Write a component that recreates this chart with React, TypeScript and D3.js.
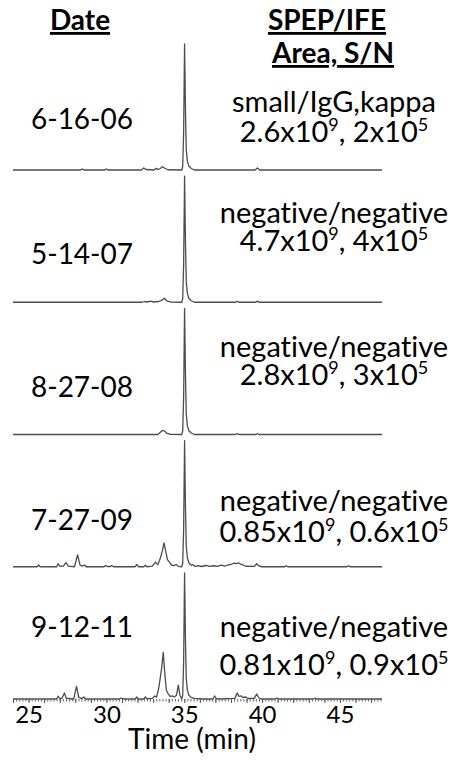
import React, { useEffect, useRef } from 'react';
import * as d3 from 'd3';

const W = 453;
const H = 773;
const FONT = "Lato, 'Open Sans', sans-serif";

// sample dates and the SPEP/IFE result + area, S/N for each run
const dates = ['6-16-06', '5-14-07', '8-27-08', '7-27-09', '9-12-11'];
const speIfe = ['small/IgG,kappa', 'negative/negative', 'negative/negative', 'negative/negative', 'negative/negative'];
const areaValues = ['2.6', '4.7', '2.8', '0.85', '0.81'];
const areaExp = '9';
const snValues = ['2', '4', '3', '0.6', '0.9'];
const snExp = '5';

const timeDomain = [24, 47.7];
const tickLabels = [25, 30, 35, 40, 45];

// main peak (time min, % of max)
const mainPeak: [number, number][] = [
  [34.84, 0], [34.9, 3], [34.96, 30], [35.02, 100], [35.08, 45], [35.13, 16],
  [35.2, 7], [35.3, 3], [35.45, 1.2],
];

const trace1: [number, number][] = [
  [24, 0], [28.35, 0], [28.45, 0.8], [28.55, 0], [29.9, 0], [30.0, 0.8], [30.1, 0],
  [32.25, 0], [32.4, 1.6], [32.55, 0.4], [33.05, 0], [33.2, 1.3], [33.3, 0.3],
  [33.45, 1.2], [33.6, 2.6], [33.75, 1.4], [33.95, 0.2], [34.82, 0],
  ...mainPeak,
  [35.65, 0], [39.55, 0], [39.7, 1.6], [39.85, 0], [47.7, 0],
];

const trace2: [number, number][] = [
  [24, 0], [32.3, 0], [32.45, 0.6], [32.6, 0.2], [32.85, 0.8], [33.05, 0.2],
  [33.35, 0.6], [33.55, 1.4], [33.72, 3.2], [33.88, 1.0], [34.1, 0.2], [34.82, 0],
  ...mainPeak,
  [35.65, 0], [38.3, 0], [38.4, 0.8], [38.5, 0], [39.6, 0], [39.7, 0.9], [39.8, 0], [47.7, 0],
];

const trace3: [number, number][] = [
  [24, 0], [33.3, 0], [33.45, 1.6], [33.6, 3.2], [33.75, 2.6], [33.9, 0.8],
  [34.1, 0.2], [34.82, 0],
  ...mainPeak,
  [35.65, 0], [38.3, 0], [38.4, 0.8], [38.5, 0], [39.6, 0], [39.7, 0.8], [39.8, 0], [47.7, 0],
];

const trace4: [number, number][] = [
  [24, 0], [25.55, 0], [25.65, 1.4], [25.75, 0], [26.8, 0], [26.9, 2.4], [27.0, 0.5],
  [27.25, 0.6], [27.4, 3.2], [27.55, 0.5], [27.95, 0], [28.15, 9.5], [28.3, 1.5],
  [28.45, 0.4], [28.6, 1.4], [28.7, 0], [29.85, 0], [29.95, 1.0], [30.05, 0.2],
  [30.25, 0.2], [30.35, 1.0], [30.45, 0], [31.85, 0], [31.95, 1.8], [32.05, 0],
  [32.4, 0], [32.5, 1.2], [32.6, 0], [32.95, 0.5], [33.15, 3.7], [33.3, 1.5],
  [33.45, 6.3], [33.58, 12], [33.7, 19], [33.8, 12.7], [33.92, 5.6], [34.07, 3.2],
  [34.2, 1.2], [34.35, 1.0], [34.5, 1.6], [34.62, 0.3], [34.82, 0],
  ...mainPeak,
  [35.55, 1.6], [35.7, 0.3], [35.9, 0.8], [36.1, 0.2], [36.4, 1.0], [36.6, 0.3],
  [36.9, 0.8], [37.1, 0.3], [37.4, 1.2], [37.6, 0.5], [37.8, 1.4], [38.0, 1.8],
  [38.2, 2.8], [38.35, 2.4], [38.5, 3.0], [38.65, 1.8], [38.8, 1.2], [38.95, 0.4],
  [39.5, 0.3], [39.65, 2.4], [39.8, 0.6], [40.0, 0], [41.45, 0], [41.55, 0.8],
  [41.65, 0], [45.45, 0], [45.55, 0.8], [45.65, 0], [47.7, 0],
];

const trace5: [number, number][] = [
  [24, 0], [26.8, 0], [26.9, 2.2], [27.0, 0.4], [27.15, 0.6], [27.3, 4.8], [27.42, 0.6],
  [27.9, 0], [28.08, 10], [28.22, 1.5], [28.4, 0.3], [28.55, 1.6], [28.65, 0],
  [30.85, 0], [30.95, 0.8], [31.05, 0], [31.85, 0], [31.95, 1.6], [32.05, 0],
  [32.4, 0], [32.5, 1.6], [32.6, 0.2], [32.95, 0.5], [33.1, 2.4], [33.22, 1.5],
  [33.35, 8], [33.45, 16], [33.55, 25], [33.65, 37], [33.75, 20], [33.85, 7],
  [33.97, 4], [34.1, 2], [34.25, 2.4], [34.35, 1.6], [34.5, 3], [34.62, 11],
  [34.72, 3], [34.8, 1.0],
  ...mainPeak,
  [35.65, 0.5], [36.2, 0], [36.85, 0], [36.95, 2.4], [37.05, 0.4], [37.3, 0],
  [38.25, 0.5], [38.4, 4.8], [38.52, 2.0], [38.65, 2.4], [38.75, 1.2], [38.95, 1.6],
  [39.1, 0.4], [39.5, 0.5], [39.65, 4], [39.78, 1.0], [39.95, 0], [40.85, 0],
  [40.95, 0.8], [41.05, 0], [43.3, 0], [43.4, 0.6], [43.5, 0], [47.7, 0],
];

const traces = [trace1, trace2, trace3, trace4, trace5];

// label placement relative to each panel baseline
const dateOffset = [-41, -38, -38, -37, -62];
const textOffset = [[-58, -28], [-79, -51], [-78, -50], [-56, -25], [-62, -24]];

export default function App() {
  const axisRef = useRef<SVGGElement>(null);

  const x = d3.scaleLinear().domain(timeDomain).range([13, 382]);
  const panelY = d3.scalePoint<string>().domain(dates).range([170, 699]);
  const y = d3.scaleLinear().domain([0, 100]).range([0, -126]);
  const line = d3
    .line<[number, number]>()
    .x(d => x(d[0]))
    .y(d => y(d[1]));

  useEffect(() => {
    const g = d3.select(axisRef.current);
    g.selectAll('*').remove();

    const minor = d3.range(121, 239).map(i => i / 5);
    g.append('g')
      .call(d3.axisBottom(x).tickValues(minor).tickSize(2.5).tickFormat(() => ''))
      .call(s => s.select('.domain').remove())
      .call(s => s.selectAll('.tick line').attr('stroke', '#666'));

    g.append('g')
      .call(d3.axisBottom(x).tickValues(d3.range(24, 48)).tickSize(4).tickFormat(() => ''))
      .call(s => s.select('.domain').remove())
      .call(s => s.selectAll('.tick line').attr('stroke', '#555'));

    g.append('g')
      .call(d3.axisBottom(x).tickValues(tickLabels).tickSize(0).tickFormat(d3.format('d')))
      .call(s => s.select('.domain').remove())
      .call(s =>
        s
          .selectAll('.tick text')
          .attr('y', 24)
          .attr('dy', null)
          .attr('fill', '#000')
          .style('font-family', FONT)
          .style('font-size', '24px')
      );
  }, []);

  const txt = { fontVariantLigatures: 'none' as const };

  return (
    <svg width={W} height={H} style={{ position: 'absolute', left: 0, top: 0, background: '#fff' }}>
      <g fontFamily={FONT} fill="#000" textAnchor="middle">
        <text x={80} y={30} fontSize={28} fontWeight="bold" style={{ textDecoration: 'underline' }}>
          Date
        </text>
        <text x={327} y={30} fontSize={28} fontWeight="bold" style={{ textDecoration: 'underline' }}>
          SPEP/IFE
        </text>
        <text x={333} y={63} fontSize={28} fontWeight="bold" style={{ textDecoration: 'underline' }}>
          Area, S/N
        </text>
      </g>

      {dates.map((d, i) => (
        <g key={d} transform={`translate(0,${panelY(d)})`}>
          <path d={line(traces[i]) || ''} fill="none" stroke="#4d4d4d" strokeWidth={1.3} strokeLinejoin="round" />
          <g fontFamily={FONT} fill="#000" textAnchor="middle" style={txt}>
            <text x={82} y={dateOffset[i]} fontSize={28}>
              {d}
            </text>
            <text x={334} y={textOffset[i][0]} fontSize={29}>
              {speIfe[i]}
            </text>
            <text x={334} y={textOffset[i][1]} fontSize={29}>
              {areaValues[i]}x10
              <tspan fontSize={18} dy={-11}>
                {areaExp}
              </tspan>
              <tspan dy={11}>, {snValues[i]}x10</tspan>
              <tspan fontSize={18} dy={-11}>
                {snExp}
              </tspan>
            </text>
          </g>
        </g>
      ))}

      <g ref={axisRef} transform={`translate(0,${panelY(dates[dates.length - 1])})`} />

      <text x={192} y={749} fontFamily={FONT} fontSize={28} textAnchor="middle" fill="#000">
        Time (min)
      </text>
    </svg>
  );
}
